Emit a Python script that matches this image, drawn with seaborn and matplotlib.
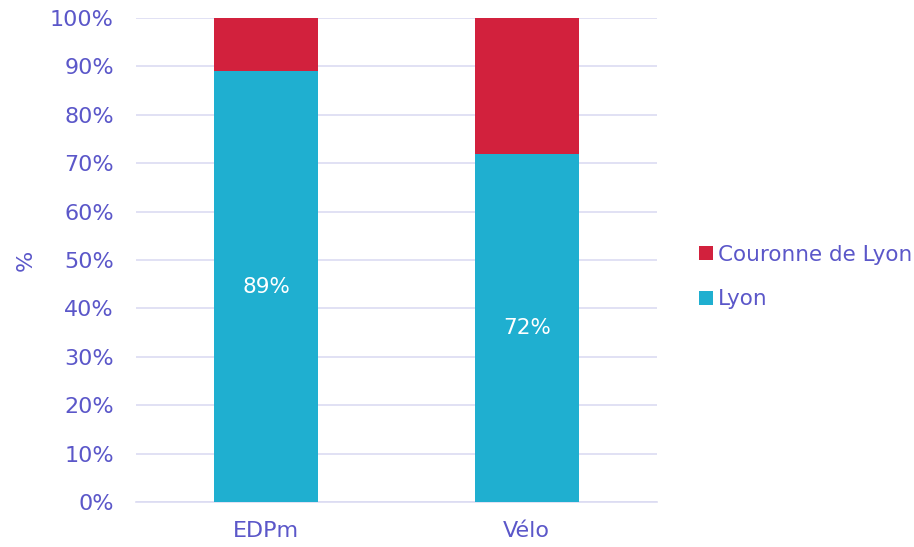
import matplotlib
matplotlib.use("Agg")
import matplotlib.pyplot as plt
import seaborn as sns
import pandas as pd
from matplotlib.patches import Patch

categories = ["EDPm", "Vélo"]
lyon = [89, 72]
couronne = [11, 28]
series_names = ["Couronne de Lyon", "Lyon"]
y_ticks = [0, 10, 20, 30, 40, 50, 60, 70, 80, 90, 100]

text_color = "#5B57C9"
grid_color = "#DCDCF2"
red = "#D2213D"
cyan = "#1FAFD0"

sns.set_theme(style="white")
plt.rcParams["font.family"] = ["DejaVu Sans"]

df = pd.DataFrame({"cat": categories, "lyon": lyon, "couronne": couronne})

fig = plt.figure(figsize=(9.14, 5.47), dpi=100)
ax = fig.add_axes([136 / 914, 45 / 547, 521 / 914, 484 / 547])

sns.barplot(data=df, x="cat", y="lyon", color=cyan, width=0.4,
            saturation=1, ax=ax, zorder=3, linewidth=0)
sns.barplot(data=df, x="cat", y="couronne", color=red, width=0.4,
            saturation=1, ax=ax, zorder=3, bottom=df["lyon"], linewidth=0)

for i, v in enumerate(lyon):
    ax.text(i, v / 2, f"{v}%", ha="center", va="center",
            color="white", fontsize=15.5)

ax.set_xlim(-0.5, 1.5)
ax.set_ylim(0, 100)
ax.set_yticks(y_ticks)
ax.set_yticklabels([f"{t}%" for t in y_ticks])
ax.yaxis.grid(True, color=grid_color, linewidth=1.2, zorder=0)
ax.set_axisbelow(True)
for side in ["top", "right", "left"]:
    ax.spines[side].set_visible(False)
ax.spines["bottom"].set_color(grid_color)
ax.spines["bottom"].set_linewidth(1.2)
ax.tick_params(axis="both", length=0, labelsize=16, colors=text_color)
ax.tick_params(axis="y", pad=16)
ax.tick_params(axis="x", pad=14)
ax.set_xlabel("")
ax.set_ylabel("%", color=text_color, fontsize=16, labelpad=10)

handles = [Patch(facecolor=red, label=series_names[0], linewidth=0),
           Patch(facecolor=cyan, label=series_names[1], linewidth=0)]
leg = ax.legend(handles=handles, loc="center left",
                bbox_to_anchor=(1.08, 0.465), frameon=False,
                fontsize=15.5, handlelength=0.65, handleheight=0.65,
                handletextpad=0.25, labelspacing=1.15, borderpad=0,
                borderaxespad=0)
for t in leg.get_texts():
    t.set_color(text_color)

fig.savefig("out.png", dpi=100)
